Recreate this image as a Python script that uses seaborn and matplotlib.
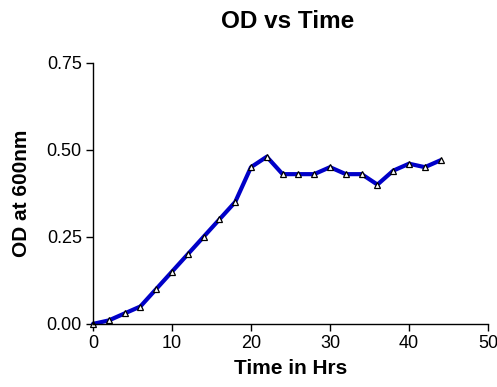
import matplotlib
matplotlib.use("Agg")
import matplotlib.pyplot as plt
import seaborn as sns
import pandas as pd

time_hrs = [0, 2, 4, 6, 8, 10, 12, 14, 16, 18, 20, 22, 24, 26, 28, 30, 32, 34, 36, 38, 40, 42, 44]
od600 = [0.00, 0.01, 0.03, 0.05, 0.10, 0.15, 0.20, 0.25, 0.30, 0.35, 0.45, 0.48, 0.43, 0.43, 0.43,
         0.45, 0.43, 0.43, 0.40, 0.44, 0.46, 0.45, 0.47]
x_ticks = [0, 10, 20, 30, 40, 50]
y_ticks = [0.00, 0.25, 0.50, 0.75]

sns.set_style("ticks")
plt.rcParams['font.family'] = ['Liberation Sans', 'DejaVu Sans']
plt.rcParams['text.color'] = 'black'
plt.rcParams['axes.labelcolor'] = 'black'

df = pd.DataFrame({"Time": time_hrs, "OD": od600})

fig = plt.figure(figsize=(4.97, 3.87), dpi=100)
ax = fig.add_axes([0.187, 0.163, 0.795, 0.675])
sns.lineplot(data=df, x="Time", y="OD", ax=ax, color="#0000C8", linewidth=3,
             marker="^", markersize=5, markerfacecolor="white", markeredgecolor="black",
             markeredgewidth=0.9, clip_on=False)
ax.set_xlim(0, 50)
ax.set_ylim(0, 0.75)
ax.set_xticks(x_ticks)
ax.set_yticks(y_ticks)
ax.set_yticklabels([f"{v:.2f}" for v in y_ticks])
sns.despine(ax=ax)
for s in ["left", "bottom"]:
    ax.spines[s].set_linewidth(1.0)
    ax.spines[s].set_color("black")
ax.tick_params(axis="both", direction="out", length=5, width=1, labelsize=13, colors="black", pad=3)
ax.set_xlabel("Time in Hrs", fontsize=15, fontweight="bold", labelpad=5)
ax.set_ylabel("OD at 600nm", fontsize=15, fontweight="bold", labelpad=11)
fig.text(0.578, 0.945, "OD vs Time", fontsize=17.5, fontweight="bold", ha="center", va="center")
fig.savefig("out.png", dpi=100)
